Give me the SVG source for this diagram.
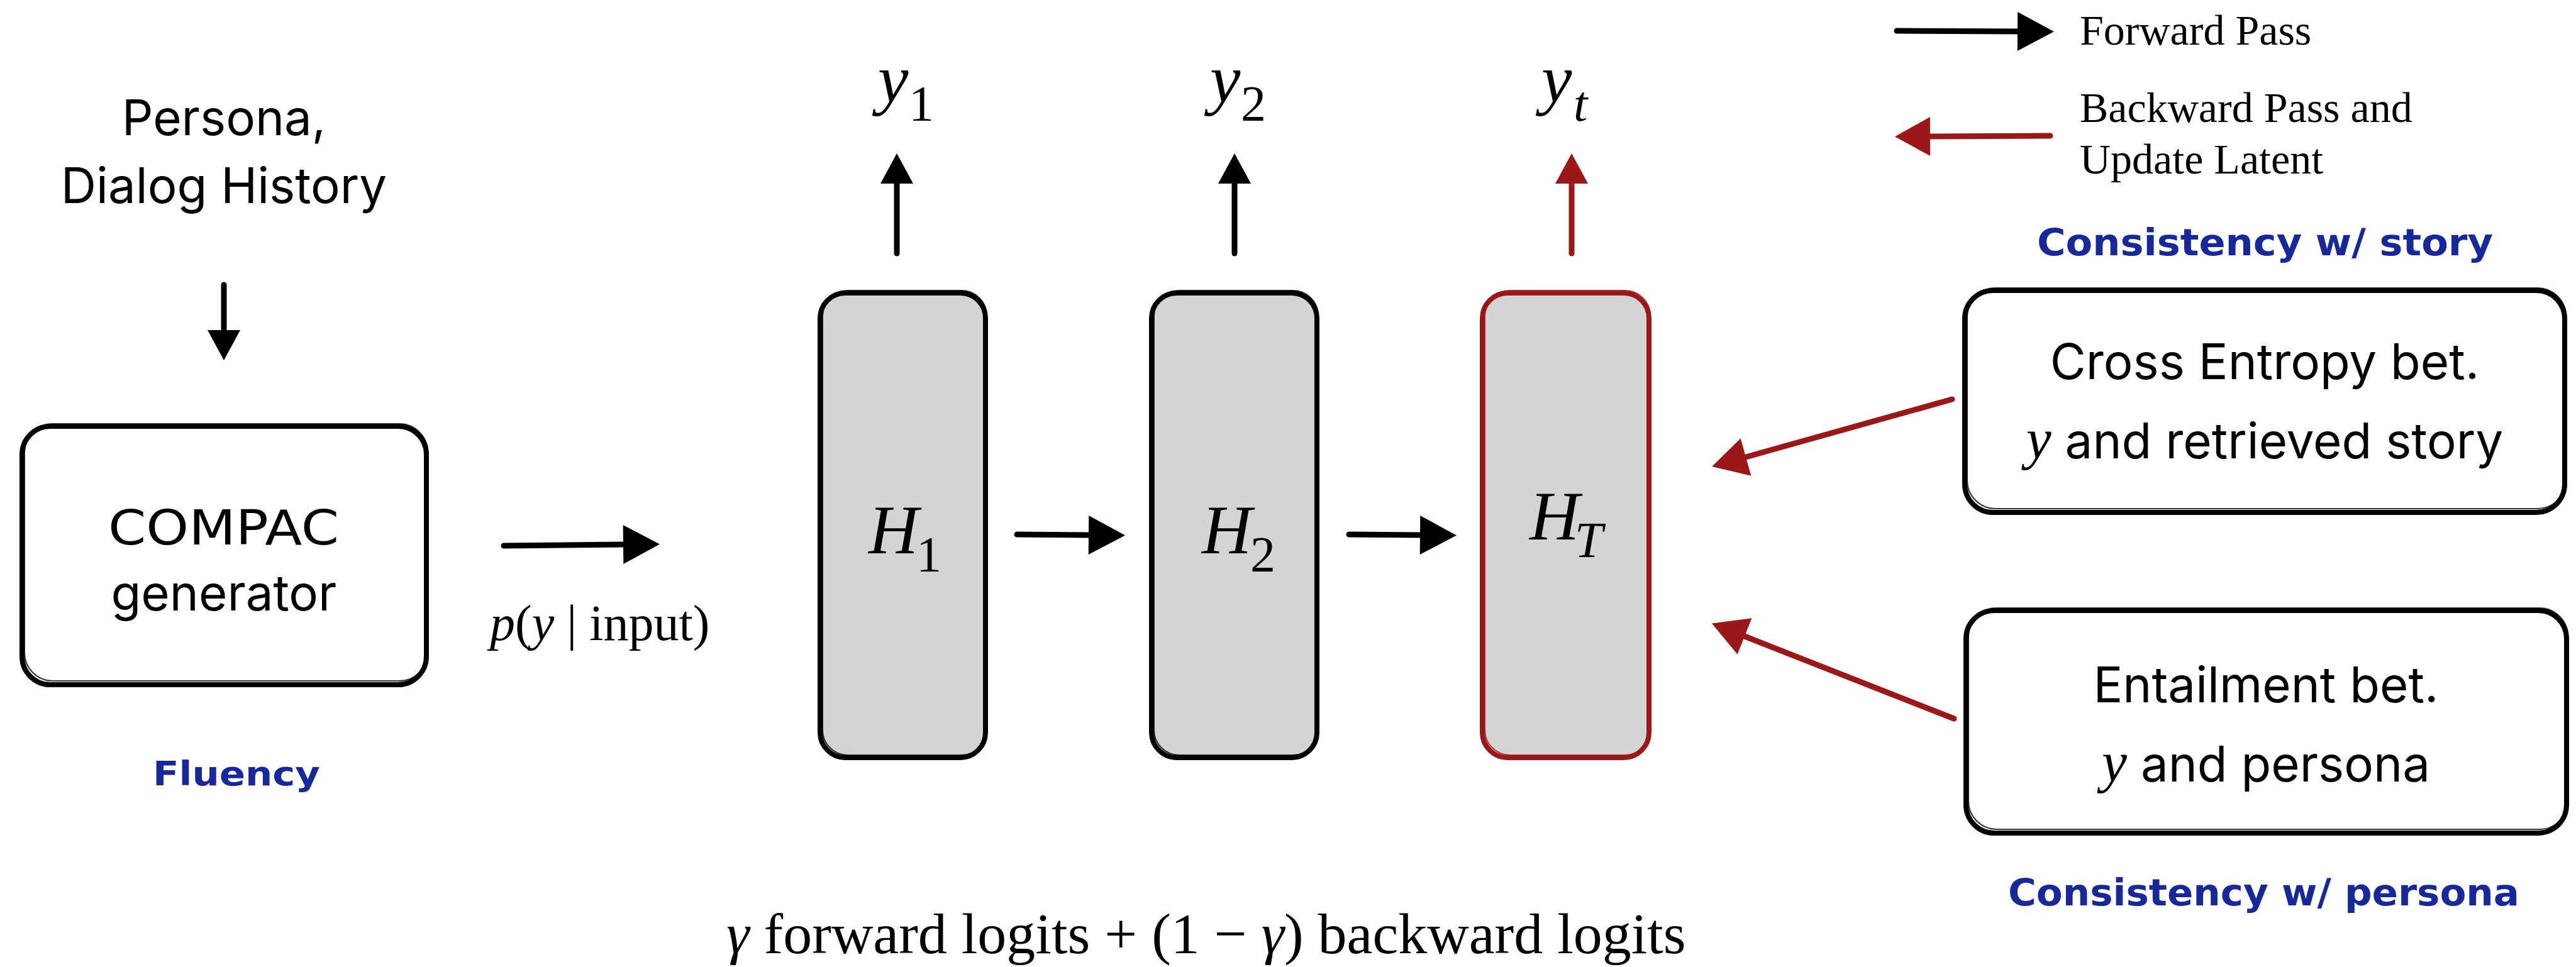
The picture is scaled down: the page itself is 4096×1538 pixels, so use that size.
<svg xmlns="http://www.w3.org/2000/svg" width="4096" height="1538" viewBox="0 0 4096 1538">
<style>
.sans{font-family:Inter,"Noto Sans",sans-serif;font-size:78px;fill:#000}
.serif{font-family:"Liberation Serif","Times New Roman",serif;fill:#000}
.it{font-style:italic}
.hand{font-family:"DejaVu Sans",sans-serif;font-weight:bold;fill:#16289c}
.box{fill:#fff;stroke:#000;stroke-width:8}
.boxs{fill:none;stroke:#000;stroke-width:2;opacity:0.8}
.hbox{fill:#d4d4d4;stroke:#000;stroke-width:8}
.hboxr{fill:#d4d4d4;stroke:#9c1818;stroke-width:8}
.hs{fill:none;stroke:#000;stroke-width:2;opacity:0.8}
.hsr{fill:none;stroke:#9c1818;stroke-width:2;opacity:0.8}
.fw{fill:none;stroke:#000;stroke-width:9;stroke-linecap:round}
.bw{fill:none;stroke:#9c1818;stroke-width:9;stroke-linecap:round}
</style>
<defs>
<marker id="hl" markerUnits="userSpaceOnUse" markerWidth="60" markerHeight="64" refX="0" refY="31" orient="auto" overflow="visible"><path d="M0,0 L58,31 L0,62 z" fill="#000"/></marker>
<marker id="hs" markerUnits="userSpaceOnUse" markerWidth="52" markerHeight="56" refX="0" refY="26" orient="auto" overflow="visible"><path d="M0,0 L48,26 L0,52 z" fill="#000"/></marker>
<marker id="hsr" markerUnits="userSpaceOnUse" markerWidth="52" markerHeight="56" refX="0" refY="26" orient="auto" overflow="visible"><path d="M0,0 L48,26 L0,52 z" fill="#9c1818"/></marker>
<marker id="hlr" markerUnits="userSpaceOnUse" markerWidth="60" markerHeight="64" refX="0" refY="31" orient="auto" overflow="visible"><path d="M0,0 L56,31 L0,62 z" fill="#9c1818"/></marker>
</defs>
<rect width="4096" height="1538" fill="#fff"/>

<g id="input-label">
<text class="sans" x="356" y="215" text-anchor="middle">Persona,</text>
<text class="sans" x="356" y="323" text-anchor="middle">Dialog History</text>
</g>

<g id="compac">
<rect class="box" x="35" y="678" width="643" height="411" rx="45"/>
<rect class="boxs" x="39" y="674" width="641" height="409" rx="45"/>
<text class="hand" x="172" y="866" font-size="76" textLength="367" lengthAdjust="spacingAndGlyphs" style="fill:#000;font-weight:normal">COMPAC</text>
<text class="sans" x="356" y="971" text-anchor="middle">generator</text>
</g>
<text id="fluency" class="hand" x="243" y="1249" font-size="54" textLength="266" lengthAdjust="spacingAndGlyphs">Fluency</text>

<g id="p-label">
<text class="serif" x="779" y="1018" font-size="80"><tspan class="it">p</tspan>(<tspan class="it">y</tspan> | input)</text>
</g>

<g id="H1">
<rect class="hbox" x="1304" y="466" width="263" height="739" rx="40"/>
<rect class="hs" x="1308" y="462" width="261" height="739" rx="40"/>
<text class="serif" x="1381" y="880" font-size="110"><tspan class="it">H</tspan></text>
<text class="serif" x="1457" y="909" font-size="80">1</text>
</g>
<g id="H2">
<rect class="hbox" x="1831" y="466" width="263" height="739" rx="40"/>
<rect class="hs" x="1835" y="462" width="261" height="739" rx="40"/>
<text class="serif" x="1911" y="880" font-size="110"><tspan class="it">H</tspan></text>
<text class="serif" x="1988" y="909" font-size="80">2</text>
</g>
<g id="HT">
<rect class="hboxr" x="2357" y="466" width="265" height="739" rx="40"/>
<rect class="hsr" x="2361" y="462" width="263" height="739" rx="40"/>
<text class="serif" x="2432" y="858" font-size="110"><tspan class="it">H</tspan></text>
<text class="serif it" x="2504" y="886" font-size="80">T</text>
</g>

<g id="y1"><text class="serif" x="1396" y="162" font-size="109"><tspan class="it">y</tspan></text><text class="serif" x="1445" y="192" font-size="80">1</text></g>
<g id="y2"><text class="serif" x="1924" y="162" font-size="109"><tspan class="it">y</tspan></text><text class="serif" x="1973" y="192" font-size="80">2</text></g>
<g id="yt"><text class="serif" x="2451" y="162" font-size="109"><tspan class="it">y</tspan></text><text class="serif it" x="2502" y="192" font-size="80">t</text></g>

<g id="legend">
<text class="serif" x="3307" y="71" font-size="68">Forward Pass</text>
<text class="serif" x="3307" y="194" font-size="68">Backward Pass and</text>
<text class="serif" x="3307" y="276" font-size="68">Update Latent</text>
</g>

<text id="cons-story" class="hand" x="3239" y="406" font-size="58" textLength="725" lengthAdjust="spacingAndGlyphs">Consistency w/ story</text>

<g id="ce-box">
<rect class="box" x="3124" y="462" width="954" height="353" rx="45"/>
<rect class="boxs" x="3128" y="458" width="952" height="351" rx="45"/>
<text class="sans" x="3601" y="603" text-anchor="middle">Cross Entropy bet.</text>
<text class="sans" x="3601" y="729" text-anchor="middle"><tspan class="serif it" font-size="90">y</tspan> and retrieved story</text>
</g>
<g id="ent-box">
<rect class="box" x="3126" y="971" width="955" height="354" rx="45"/>
<rect class="boxs" x="3130" y="967" width="953" height="352" rx="45"/>
<text class="sans" x="3603" y="1117" text-anchor="middle">Entailment bet.</text>
<text class="sans" x="3603" y="1243" text-anchor="middle"><tspan class="serif it" font-size="90">y</tspan> and persona</text>
</g>
<text id="cons-persona" class="hand" x="3193" y="1440" font-size="58" textLength="813" lengthAdjust="spacingAndGlyphs">Consistency w/ persona</text>

<text id="formula" class="serif" x="1918" y="1516" font-size="92" text-anchor="middle"><tspan class="it">γ</tspan> forward logits + (1 − <tspan class="it">γ</tspan>) backward logits</text>

<g id="connectors">
<path class="fw" d="M356,453 L356,525" marker-end="url(#hs)"/>
<path class="fw" d="M801,868 L991,866" marker-end="url(#hl)"/>
<path class="fw" d="M1426,403 L1426,292" marker-end="url(#hs)"/>
<path class="fw" d="M1963,403 L1963,292" marker-end="url(#hs)"/>
<path class="bw" d="M2499,403 L2499,292" marker-end="url(#hsr)"/>
<path class="fw" d="M1617,850 L1731,851" marker-end="url(#hl)"/>
<path class="fw" d="M2145,850 L2258,851" marker-end="url(#hl)"/>
<path class="fw" d="M3016,49 L3208,50" marker-end="url(#hl)"/>
<path class="bw" d="M3260,216 L3069,217" marker-end="url(#hlr)"/>
<path class="bw" d="M3104,635 L2776,727" marker-end="url(#hlr)"/>
<path class="bw" d="M3107,1143 L2774,1012" marker-end="url(#hlr)"/>
</g>
</svg>
